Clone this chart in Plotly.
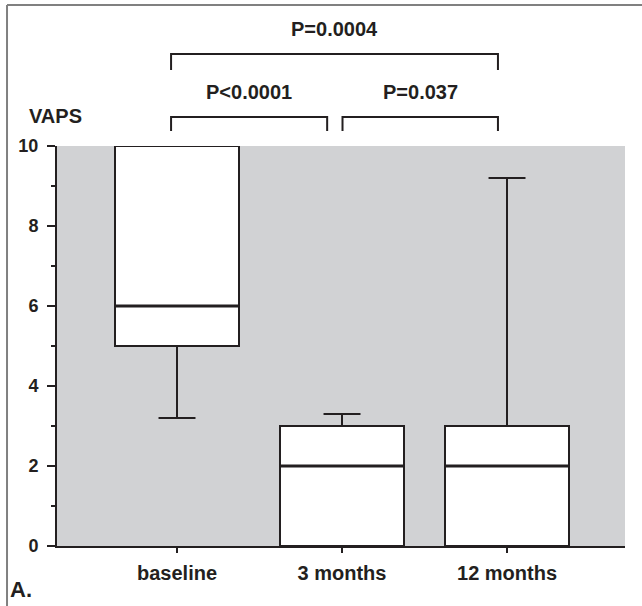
import plotly.graph_objects as go

# ---- data ----
categories = ["baseline", "3 months", "12 months"]
q1 = [5, 0, 0]
median = [6, 2, 2]
q3 = [10, 3, 3]
whisker_low = [3.2, 0, 0]
whisker_high = [10, 3.3, 9.2]
y_ticks = [0, 2, 4, 6, 8, 10]
comp_labels = ["P<0.0001", "P=0.037", "P=0.0004"]
comp_from = [0, 1, 0]
comp_to = [1, 2, 2]
axis_label = "VAPS"
panel_label = "A."

# ---- styling ----
INK = "#231f20"
BG = "#d1d2d4"
FONT = "Liberation Sans"
BOX_W = 0.75
CAP_HALF = 0.112

xpos = list(range(len(categories)))
fig = go.Figure()

# boxes
fig.add_trace(go.Bar(
    x=xpos, y=[h - l for h, l in zip(q3, q1)], base=q1, width=BOX_W,
    marker=dict(color="white", line=dict(color=INK, width=2)),
    showlegend=False, hoverinfo="skip"))

# whiskers + caps
wx, wy = [], []
for p, lo, a, b, hi in zip(xpos, whisker_low, q1, q3, whisker_high):
    wx += [p, p, None, p, p, None, p - CAP_HALF, p + CAP_HALF, None, p - CAP_HALF, p + CAP_HALF, None]
    wy += [b, hi, None, lo, a, None, hi, hi, None, lo, lo, None]
fig.add_trace(go.Scatter(x=wx, y=wy, mode="lines", line=dict(color=INK, width=2),
                         showlegend=False, hoverinfo="skip", cliponaxis=False))

# medians
mx, my = [], []
for p, m in zip(xpos, median):
    mx += [p - BOX_W / 2, p + BOX_W / 2, None]
    my += [m, m, None]
fig.add_trace(go.Scatter(x=mx, y=my, mode="lines", line=dict(color=INK, width=3),
                         showlegend=False, hoverinfo="skip"))

# significance brackets (paper y)
shapes = []
annotations = []
for lab, i, j in zip(comp_labels, comp_from, comp_to):
    x0 = i + (-0.036 if i == 0 else 0.003)
    x1 = j + (-0.055 if j == len(categories) - 1 else -0.09)
    if j - i > 1:
        ytop, yleg, ytxt = 1.23, 1.19, 1.2925
    else:
        ytop, yleg, ytxt = 1.0725, 1.0375, 1.135
    shapes.append(dict(type="path", xref="x", yref="paper",
                       path=f"M {x0},{yleg} L {x0},{ytop} L {x1},{ytop} L {x1},{yleg}",
                       line=dict(color=INK, width=2)))
    annotations.append(dict(text=lab, x=(x0 + x1) / 2, y=ytxt, xref="x", yref="paper",
                            showarrow=False, xanchor="center", yanchor="middle",
                            font=dict(family=FONT, size=20, color=INK, weight="bold")))

annotations.append(dict(text=axis_label, x=-0.0026, y=1.075, xref="paper", yref="paper",
                        showarrow=False, xanchor="center", yanchor="middle",
                        font=dict(family=FONT, size=20, color=INK, weight="bold")))
annotations.append(dict(text=panel_label, x=-0.064, y=-0.1075, xref="paper", yref="paper",
                        showarrow=False, xanchor="center", yanchor="middle",
                        font=dict(family=FONT, size=22, color=INK, weight="bold")))

# outer frame (top and left)
shapes.append(dict(type="line", xref="paper", yref="paper", x0=-0.088, x1=1.05,
                   y0=1.3525, y1=1.3525, line=dict(color="#808080", width=2)))
shapes.append(dict(type="line", xref="paper", yref="paper", x0=-0.088, x1=-0.088,
                   y0=-0.2, y1=1.3525, line=dict(color="#808080", width=2)))

fig.update_layout(
    width=642, height=606,
    margin=dict(l=57, r=17, t=146, b=60, pad=0),
    paper_bgcolor="white", plot_bgcolor=BG,
    bargap=0, showlegend=False,
    shapes=shapes, annotations=annotations,
    xaxis=dict(range=[-0.7273, 2.715], tickmode="array", tickvals=xpos, ticktext=categories,
               showgrid=False, zeroline=False, showline=True, linecolor=INK, linewidth=2,
               ticks="outside", ticklen=5, tickwidth=1.5, tickcolor=INK,
               tickfont=dict(family=FONT, size=20, color=INK, weight="bold"),
               ticklabelstandoff=3, fixedrange=True),
    yaxis=dict(range=[0, 10], tickmode="array", tickvals=y_ticks,
               showgrid=False, zeroline=False, showline=True, linecolor=INK, linewidth=2,
               ticks="outside", ticklen=8, tickwidth=1.5, tickcolor=INK,
               minor=dict(ticks="outside", ticklen=4, dtick=1, tickcolor=INK, tickwidth=1.5, showgrid=False),
               tickfont=dict(family=FONT, size=18, color=INK, weight="bold"),
               ticklabelstandoff=5, fixedrange=True),
)

fig.write_html("out.html")
